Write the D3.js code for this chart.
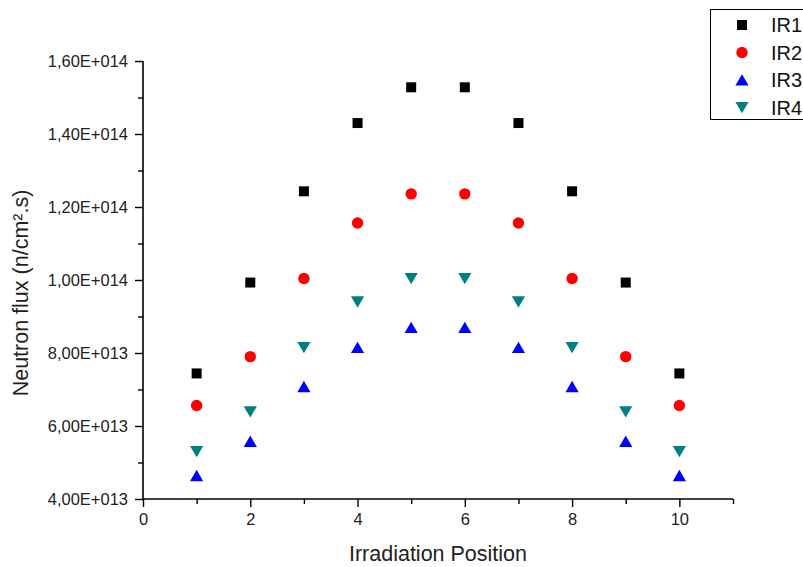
<!DOCTYPE html>
<html><head><meta charset="utf-8">
<script src="https://cdn.jsdelivr.net/npm/d3@7/dist/d3.min.js"></script>
<style>
html,body{margin:0;padding:0;background:#fff;}
svg{display:block;font-family:Arial,"Liberation Sans",sans-serif;}
</style></head>
<body>
<svg id="chart" width="803" height="567"></svg>
<script>
const positions = [1,2,3,4,5,6,7,8,9,10];
const ir1 = [7.44e13, 9.93e13, 1.243e14, 1.430e14, 1.528e14, 1.528e14, 1.430e14, 1.243e14, 9.93e13, 7.44e13];
const ir2 = [6.56e13, 7.90e13, 1.004e14, 1.156e14, 1.236e14, 1.236e14, 1.156e14, 1.004e14, 7.90e13, 6.56e13];
const ir3 = [4.64e13, 5.58e13, 7.08e13, 8.15e13, 8.70e13, 8.70e13, 8.15e13, 7.08e13, 5.58e13, 4.64e13];
const ir4 = [5.30e13, 6.39e13, 8.15e13, 9.40e13, 1.004e14, 1.004e14, 9.40e13, 8.15e13, 6.39e13, 5.30e13];
const seriesNames = ["IR1","IR2","IR3","IR4"];
const xTicks = [0,2,4,6,8,10];
const yTicks = [4e13,6e13,8e13,1e14,1.2e14,1.4e14,1.6e14];
const yTickLabels = ["4,00E+013","6,00E+013","8,00E+013","1,00E+014","1,20E+014","1,40E+014","1,60E+014"];

const svg = d3.select("#chart");
const x = d3.scaleLinear().domain([0,11]).range([143,733]);
const y = d3.scaleLinear().domain([4e13,1.6e14]).range([499,61]);

const colors = ["#000000","#ff0000","#0000ff","#008080"];
const sqr = "M-5,-5H5V5H-5Z";
const circ = d3.symbol(d3.symbolCircle, Math.PI*5.7*5.7)();
const up = "M0,-5.8L6.6,5.6L-6.6,5.6Z";
const down = "M0,5.8L6.6,-5.6L-6.6,-5.6Z";
const shapes = [sqr, circ, up, down];
const data = [ir1, ir2, ir3, ir4];

// axes
const xAxis = d3.axisBottom(x).tickValues(xTicks).tickSize(8).tickPadding(6).tickFormat(d3.format("d"));
const gx = svg.append("g").attr("transform","translate(0,499)").call(xAxis);
const xMinor = d3.axisBottom(x).tickValues([1,3,5,7,9,11]).tickSize(5).tickFormat("");
svg.append("g").attr("transform","translate(0,499)").call(xMinor).select(".domain").remove();

const yAxis = d3.axisLeft(y).tickValues(yTicks).tickSize(8).tickPadding(7).tickFormat((d,i)=>yTickLabels[i]);
const gy = svg.append("g").attr("transform","translate(143,0)").call(yAxis);
const yMinor = d3.axisLeft(y).tickValues([5e13,7e13,9e13,1.1e14,1.3e14,1.5e14]).tickSize(5).tickFormat("");
svg.append("g").attr("transform","translate(143,0)").call(yMinor).select(".domain").remove();

svg.selectAll(".domain").attr("stroke","#000").attr("stroke-width",1.6);
svg.selectAll(".tick line").attr("stroke","#000").attr("stroke-width",1.4);
svg.selectAll(".tick text").attr("font-size","16.5px").attr("fill","#222").attr("font-family",'Arial,"Liberation Sans",sans-serif');
gx.selectAll(".domain").attr("d","M143,0H733");
gy.selectAll(".domain").attr("d","M0,499V61");

// titles
svg.append("text").attr("x",438).attr("y",561).attr("text-anchor","middle")
  .attr("font-size","21.5px").attr("fill","#222").text("Irradiation Position");
svg.append("text").attr("transform","translate(28,293) rotate(-90)").attr("text-anchor","middle")
  .attr("font-size","21.5px").attr("fill","#222").text("Neutron flux (n/cm².s)");

// points
data.forEach((vals,si)=>{
  svg.append("g").selectAll("path").data(vals).join("path")
    .attr("d",shapes[si])
    .attr("transform",(d,i)=>`translate(${x(positions[i])},${y(d)})`)
    .attr("fill",colors[si]);
});

// legend
const lg = svg.append("g");
lg.append("rect").attr("x",710.5).attr("y",9.5).attr("width",120).attr("height",110)
  .attr("fill","#fff").attr("stroke","#000").attr("stroke-width",1);
seriesNames.forEach((n,i)=>{
  const ly = 25 + i*27.5;
  lg.append("path").attr("d",shapes[i]).attr("transform",`translate(742,${ly})`).attr("fill",colors[i]);
  lg.append("text").attr("x",771).attr("y",ly+7).attr("font-size","20px").attr("fill","#111").text(n);
});
</script>
</body></html>
